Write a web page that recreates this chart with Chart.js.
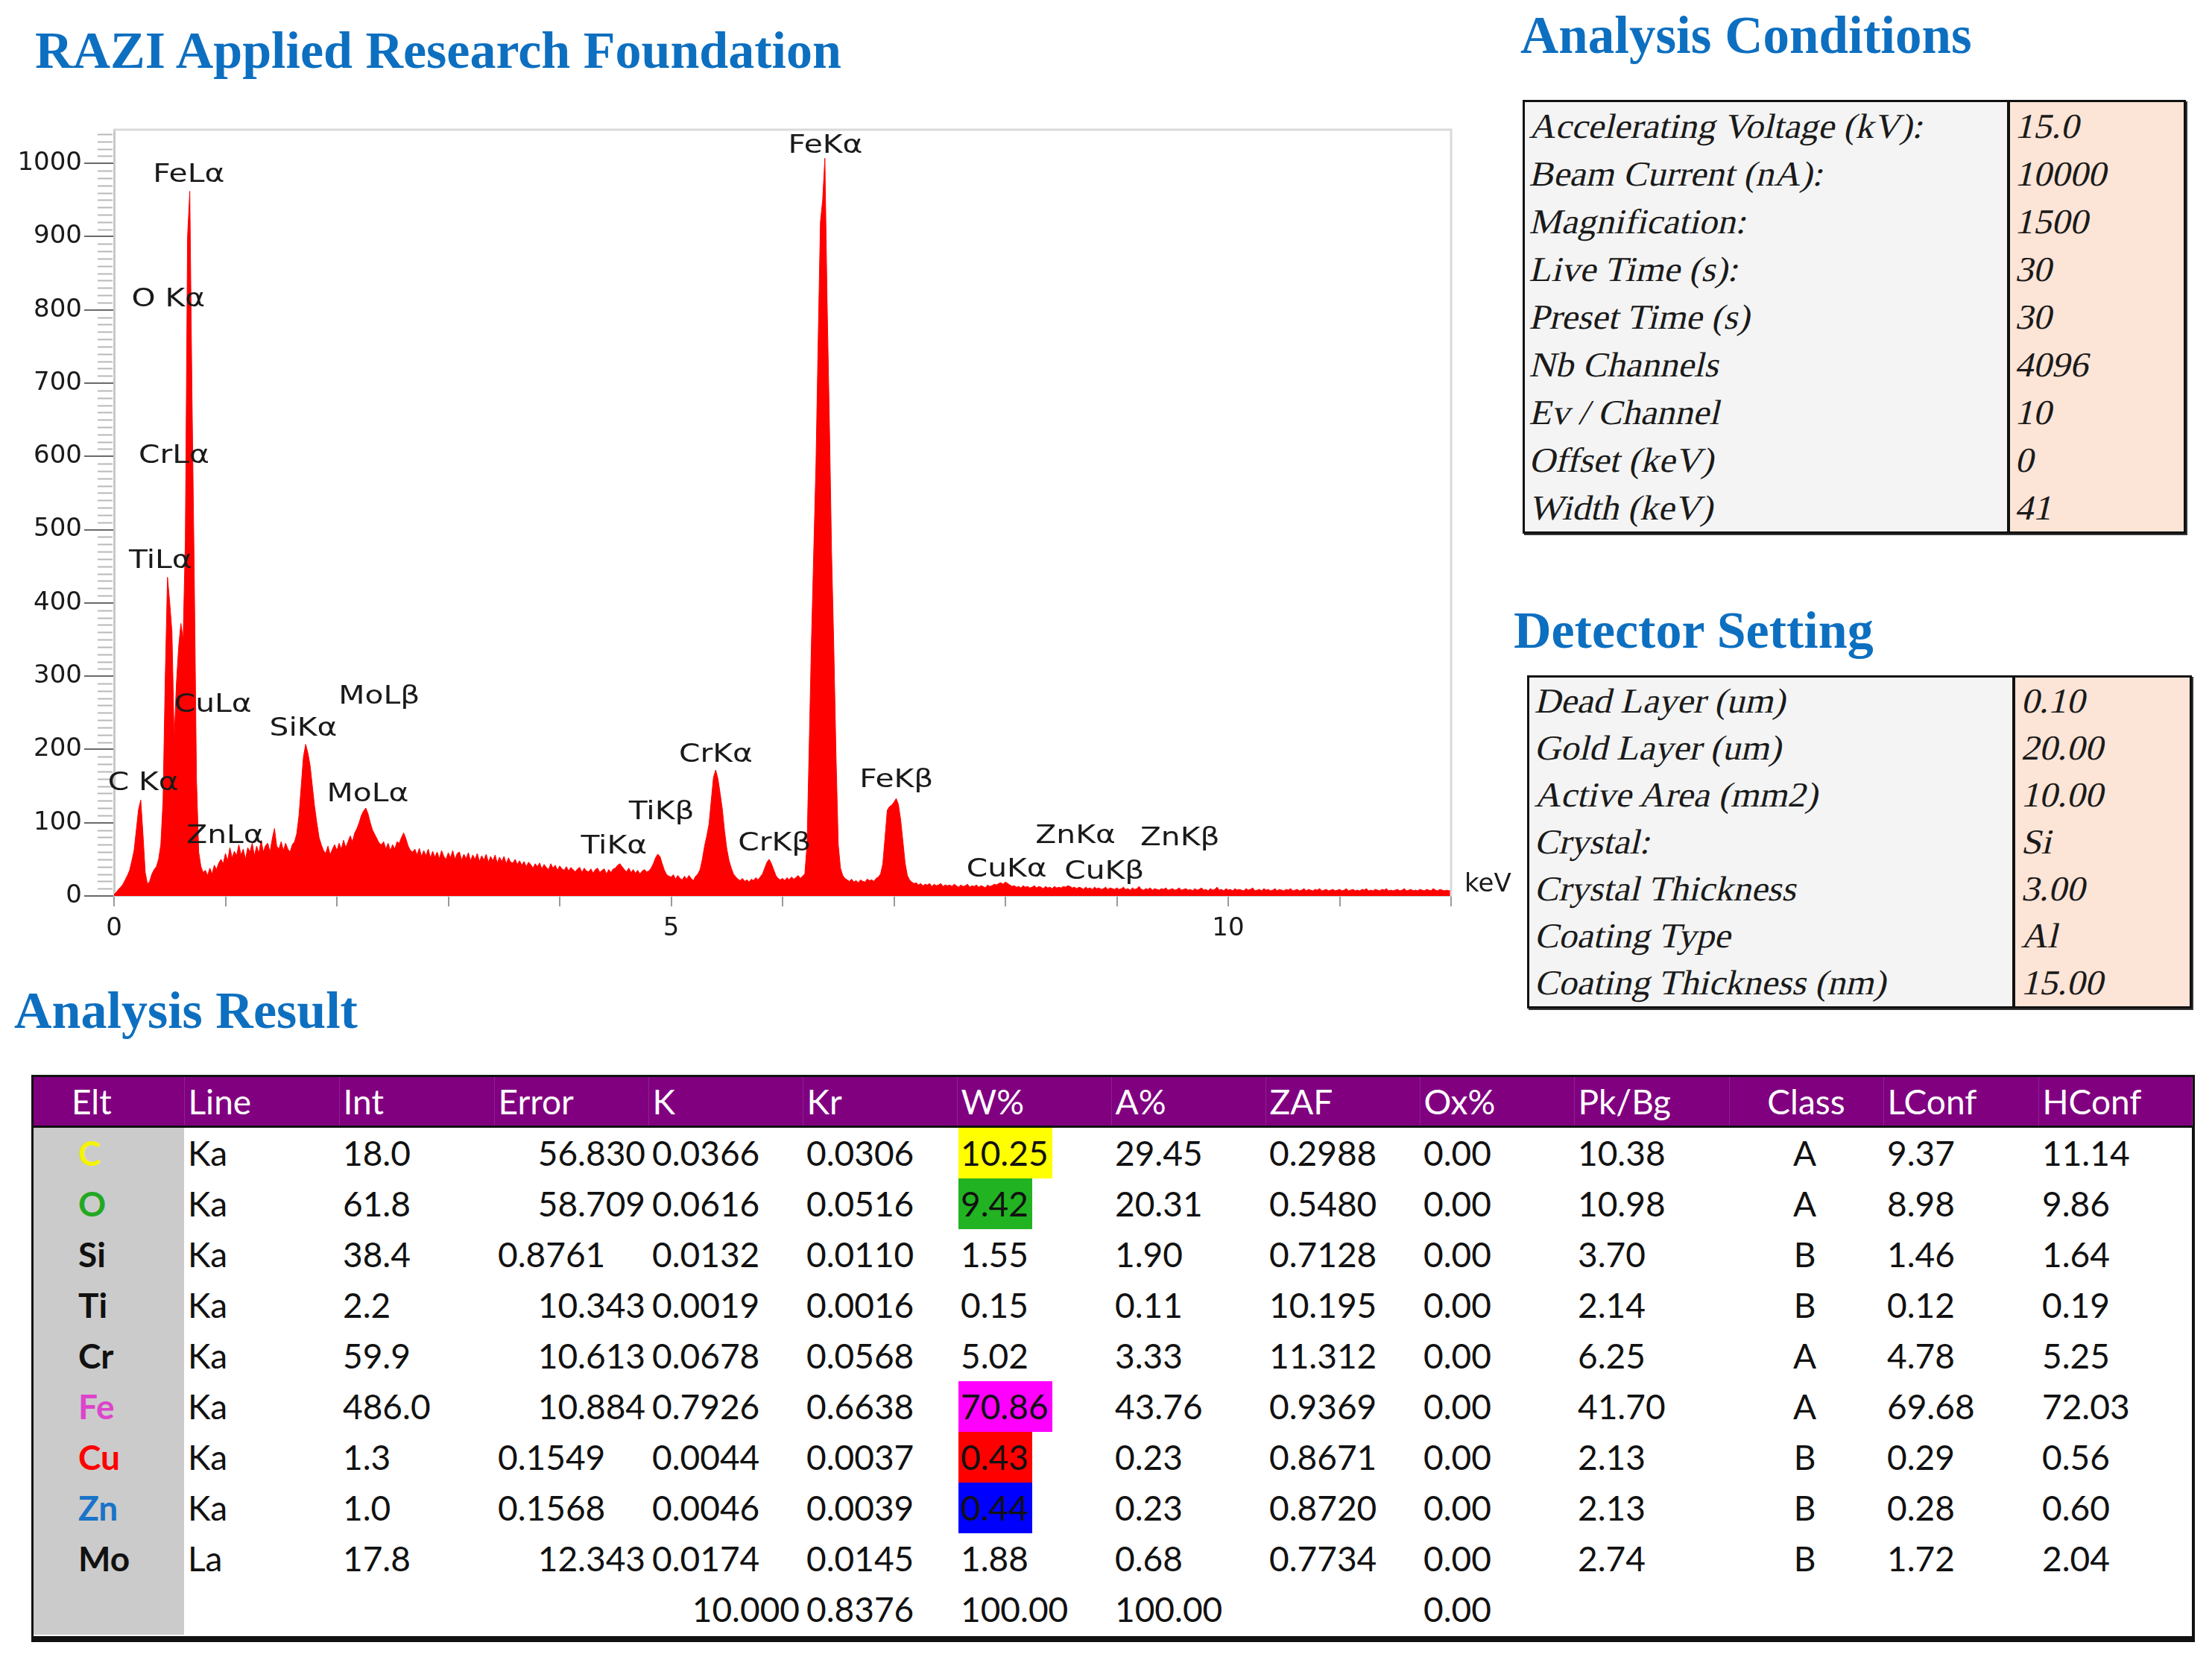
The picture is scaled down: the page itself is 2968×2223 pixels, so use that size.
<!DOCTYPE html>
<html>
<head>
<meta charset="utf-8">
<title>EDS spectrum report</title>
<script src="https://cdn.jsdelivr.net/npm/chart.js@4.4.1/dist/chart.umd.min.js"></script>
<style>
  html, body { margin: 0; padding: 0; background: #fff; }
  body { position: relative; width: 2968px; height: 2223px; overflow: hidden; }
  .heading { position: absolute; margin: 0; font-family: "Liberation Serif", "Times New Roman", serif; font-weight: bold; color: #0d6fc0; line-height: 1; white-space: nowrap; }
  #spectrum { position: absolute; left: 0; top: 150px; }
  .kv { position: absolute; box-sizing: border-box; border: 3px solid #111; box-shadow: 2px 2px 0 #333; display: flex; font-family: "Liberation Serif", "Times New Roman", serif; font-size: 47px; color: #1a1a1a; }
  .kv .names { background: #f4f4f4; }
  .kv .vals { background: #fce4d6; border-left: 4px solid #111; flex: 1; }
  .kv .cell { white-space: nowrap; }
  .kv .cell span { display: inline-block; transform-origin: 0 50%; transform: skewX(-13deg) scaleX(1.04); }
  #resultBox { position: absolute; left: 42px; top: 1442px; width: 2903px; height: 761px; box-sizing: border-box; border-style: solid; border-color: #111; border-width: 3px 4px 8px 3px; background: #fff; }
  #results { border-collapse: collapse; table-layout: fixed; width: 2896px; font-family: Lato, "Open Sans", sans-serif; font-size: 46px; color: #111; }
  #results th { height: 65px; line-height: 65px; padding: 0 0 0 5px; background: #800080; color: #fff; font-weight: normal; text-align: left; border-bottom: 3px solid #111; border-right: 1px solid #8d238d; white-space: nowrap; }
  #results td { height: 68px; line-height: 68px; padding: 0 4px 0 5px; white-space: nowrap; overflow: visible; }
  #results td.elt { background: #cbcbcb; font-weight: bold; padding-left: 60px; }
  #results .mark { display: inline-block; line-height: 68px; padding: 0 5px 0 3px; margin-left: -3px; }
</style>
</head>
<body>

<div class="heading" style="left:47px; top:33px; font-size:70px;">RAZI Applied Research Foundation</div>
<div class="heading" style="left:2040px; top:12px; font-size:71px;">Analysis Conditions</div>
<div class="heading" style="left:2031px; top:811px; font-size:70px;">Detector Setting</div>
<div class="heading" style="left:19px; top:1321px; font-size:70px;">Analysis Result</div>

<canvas id="spectrum" width="2040" height="1150"></canvas>

<div class="kv" id="conditions" style="left:2043px; top:134px; width:890px; height:582px;"></div>
<div class="kv" id="detector" style="left:2049px; top:906px; width:892px; height:447px;"></div>

<div id="resultBox"><table id="results"></table></div>

<script>
// ===== Spectrum data (one value every 0.02 keV, 0 - 12 keV) =====
const channelKeV = 0.02;
const counts = [
  2, 5, 9, 12, 16, 22, 28, 35, 48, 62, 90, 118, 131, 84, 32, 16, 20, 30, 36, 40, 50, 70, 130, 300, 435,
  400, 360, 214, 290, 340, 372, 350, 485, 900, 962, 680, 440, 160, 60, 40, 32, 35, 28, 38, 30, 42, 36, 45, 50, 44,
  58, 48, 66, 52, 61, 55, 70, 56, 64, 50, 66, 60, 72, 55, 68, 58, 76, 60, 69, 72, 60, 78, 92, 68, 64,
  74, 62, 72, 64, 60, 70, 74, 85, 110, 150, 190, 207, 195, 178, 150, 122, 100, 80, 70, 62, 58, 68, 56, 64, 70,
  62, 72, 64, 76, 66, 74, 82, 74, 86, 92, 100, 110, 116, 120, 112, 100, 90, 84, 78, 72, 70, 74, 64, 72, 62,
  70, 64, 74, 72, 80, 86, 78, 68, 62, 60, 64, 56, 65, 54, 62, 55, 64, 52, 61, 53, 60, 51, 62, 54, 50,
  59, 52, 62, 50, 58, 60, 49, 57, 51, 59, 48, 56, 50, 58, 47, 55, 49, 57, 46, 54, 48, 56, 45, 53, 47,
  54, 44, 52, 46, 45, 50, 43, 48, 42, 47, 40, 46, 43, 38, 44, 40, 45, 37, 43, 39, 36, 44, 38, 42, 35,
  41, 37, 35, 40, 34, 39, 36, 33, 37, 39, 32, 38, 34, 33, 37, 31, 36, 38, 32, 35, 37, 30, 36, 32, 37,
  38, 42, 44, 40, 36, 33, 38, 32, 36, 31, 35, 30, 34, 36, 33, 34, 38, 44, 52, 57, 54, 44, 35, 29, 27,
  26, 29, 23, 28, 24, 22, 27, 23, 28, 24, 21, 27, 30, 36, 50, 68, 82, 98, 130, 162, 172, 160, 140, 118, 88,
  64, 48, 38, 30, 26, 23, 21, 24, 20, 22, 19, 23, 21, 25, 22, 26, 30, 38, 46, 50, 44, 36, 28, 24, 22,
  24, 21, 25, 22, 26, 23, 25, 28, 24, 27, 30, 70, 210, 350, 470, 590, 760, 920, 950, 1007, 810, 650, 470, 340, 190,
  70, 38, 28, 24, 22, 20, 23, 19, 21, 18, 22, 20, 19, 23, 21, 22, 20, 24, 26, 30, 44, 80, 117, 122, 124,
  128, 133, 125, 104, 75, 45, 28, 22, 19, 17, 18, 15, 17, 14, 16, 15, 17, 13, 16, 14, 15, 17, 13, 15, 14,
  15, 13, 16, 14, 12, 15, 13, 14, 16, 12, 14, 13, 15, 12, 14, 13, 11, 15, 13, 14, 16, 15, 17, 18, 16,
  19, 17, 15, 13, 14, 12, 13, 11, 14, 12, 13, 11, 12, 14, 11, 13, 12, 10, 13, 11, 12, 10, 13, 11, 12,
  11, 13, 12, 14, 13, 11, 12, 10, 12, 11, 9, 12, 10, 11, 9, 12, 10, 11, 9, 10, 12, 9, 11, 10, 9,
  11, 9, 10, 12, 9, 10, 8, 11, 9, 10, 13, 9, 8, 10, 9, 11, 8, 10, 9, 8, 10, 9, 11, 8, 9,
  10, 8, 9, 11, 8, 9, 10, 8, 9, 7, 10, 8, 9, 11, 8, 9, 7, 10, 8, 9, 12, 8, 9, 7, 10,
  8, 9, 7, 10, 8, 9, 8, 7, 10, 8, 9, 11, 7, 8, 9, 7, 10, 8, 9, 7, 8, 10, 7, 9, 8,
  7, 9, 8, 10, 7, 8, 9, 7, 8, 10, 7, 9, 8, 7, 9, 8, 10, 7, 8, 9, 7, 8, 9, 7, 8,
  9, 7, 8, 10, 7, 8, 9, 7, 8, 7, 9, 8, 10, 7, 8, 7, 9, 8, 7, 9, 8, 10, 7, 8, 7,
  8, 9, 7, 8, 10, 7, 8, 9, 7, 8, 7, 9, 8, 7, 9, 8, 7, 10, 8, 7, 9, 8, 7, 8, 7,
  8
];
const energyTickLabels = [0, 5, 10];
const countMax = 1046;

// peak name, left edge (keV), middle height (counts)
const peakLabels = [
  ['FeLα', 0.35, 984], ['O Kα', 0.157, 814], ['CrLα', 0.22, 600], ['TiLα', 0.134, 457],
  ['CuLα', 0.54, 260], ['C Kα', -0.056, 153], ['ZnLα', 0.65, 81], ['SiKα', 1.395, 228],
  ['MoLβ', 2.015, 271], ['MoLα', 1.91, 138], ['TiKα', 4.19, 67], ['TiKβ', 4.62, 114],
  ['CrKα', 5.07, 192], ['CrKβ', 5.60, 71], ['FeKα', 6.05, 1023], ['FeKβ', 6.69, 158],
  ['CuKα', 7.65, 35], ['CuKβ', 8.53, 32], ['ZnKα', 8.27, 81], ['ZnKβ', 9.21, 78]
];

// ===== Side tables =====
const conditionNames = ['Accelerating Voltage (kV):', 'Beam Current (nA):', 'Magnification:', 'Live Time (s):',
  'Preset Time (s)', 'Nb Channels', 'Ev / Channel', 'Offset (keV)', 'Width (keV)'];
const conditionValues = ['15.0', '10000', '1500', '30', '30', '4096', '10', '0', '41'];
const detectorNames = ['Dead Layer (um)', 'Gold Layer (um)', 'Active Area (mm2)', 'Crystal:',
  'Crystal Thickness', 'Coating Type', 'Coating Thickness (nm)'];
const detectorValues = ['0.10', '20.00', '10.00', 'Si', '3.00', 'Al', '15.00'];

// ===== Analysis result =====
const resultHeaders = ['Elt', 'Line', 'Int', 'Error', 'K', 'Kr', 'W%', 'A%', 'ZAF', 'Ox%', 'Pk/Bg', 'Class', 'LConf', 'HConf'];
const elements = ['C', 'O', 'Si', 'Ti', 'Cr', 'Fe', 'Cu', 'Zn', 'Mo'];
const lines = ['Ka', 'Ka', 'Ka', 'Ka', 'Ka', 'Ka', 'Ka', 'Ka', 'La'];
const intensity = ['18.0', '61.8', '38.4', '2.2', '59.9', '486.0', '1.3', '1.0', '17.8'];
const errors = ['56.830', '58.709', '0.8761', '10.343', '10.613', '10.884', '0.1549', '0.1568', '12.343'];
const kValues = ['0.0366', '0.0616', '0.0132', '0.0019', '0.0678', '0.7926', '0.0044', '0.0046', '0.0174'];
const krValues = ['0.0306', '0.0516', '0.0110', '0.0016', '0.0568', '0.6638', '0.0037', '0.0039', '0.0145'];
const weightPct = ['10.25', '9.42', '1.55', '0.15', '5.02', '70.86', '0.43', '0.44', '1.88'];
const atomicPct = ['29.45', '20.31', '1.90', '0.11', '3.33', '43.76', '0.23', '0.23', '0.68'];
const zafValues = ['0.2988', '0.5480', '0.7128', '10.195', '11.312', '0.9369', '0.8671', '0.8720', '0.7734'];
const oxidePct = ['0.00', '0.00', '0.00', '0.00', '0.00', '0.00', '0.00', '0.00', '0.00'];
const peakToBg = ['10.38', '10.98', '3.70', '2.14', '6.25', '41.70', '2.13', '2.13', '2.74'];
const classes = ['A', 'A', 'B', 'B', 'A', 'A', 'B', 'B', 'B'];
const lowConf = ['9.37', '8.98', '1.46', '0.12', '4.78', '69.68', '0.29', '0.28', '1.72'];
const highConf = ['11.14', '9.86', '1.64', '0.19', '5.25', '72.03', '0.56', '0.60', '2.04'];
const totals = ['', '', '', '', '10.000', '0.8376', '100.00', '100.00', '', '0.00', '', '', '', ''];

const eltColors = { C: '#f4f400', O: '#22a822', Fe: '#dd44cc', Cu: '#ff0000', Zn: '#1a73c8' };
const weightMarks = { C: '#ffff00', O: '#22b322', Fe: '#ff00ff', Cu: '#ff0000', Zn: '#0000ff' };

function fillKeyValue(box, names, values, rowH, padNames, padVals, namesWidth) {
  const nameCol = document.createElement('div');
  nameCol.className = 'names';
  nameCol.style.width = namesWidth + 'px';
  const valCol = document.createElement('div');
  valCol.className = 'vals';
  names.forEach((n, i) => {
    nameCol.insertAdjacentHTML('beforeend',
      `<div class="cell" style="height:${rowH}px;line-height:${rowH}px;padding-left:${padNames}px"><span>${n}</span></div>`);
    valCol.insertAdjacentHTML('beforeend',
      `<div class="cell" style="height:${rowH}px;line-height:${rowH}px;padding-left:${padVals}px"><span>${values[i]}</span></div>`);
  });
  box.appendChild(nameCol);
  box.appendChild(valCol);
}

fillKeyValue(document.getElementById('conditions'), conditionNames, conditionValues, 64, 9, 10, 647);
fillKeyValue(document.getElementById('detector'), detectorNames, detectorValues, 63, 10, 11, 648);

// results table
const colWidths = [202, 208, 208, 207, 207, 207, 207, 207, 207, 207, 208, 207, 208, 206];
const table = document.getElementById('results');
let html = '<colgroup>' + colWidths.map(w => `<col style="width:${w}px">`).join('') + '</colgroup>';
html += '<tr>' + resultHeaders.map((h, c) => {
  if (c === 0) return `<th style="padding-left:51px">${h}</th>`;
  if (h === 'Class') return `<th style="text-align:center;padding-left:0">${h}</th>`;
  return `<th>${h}</th>`;
}).join('') + '</tr>';

const columns = [elements, lines, intensity, errors, kValues, krValues, weightPct, atomicPct,
  zafValues, oxidePct, peakToBg, classes, lowConf, highConf];

function cellHtml(c, v, elt) {
  let style = '';
  if ((c === 3 || c === 4) && parseFloat(v) >= 10) style = 'text-align:right';
  if (c === 11) style = 'text-align:center;padding-left:0';
  let content = v;
  if (c === 6 && elt && weightMarks[elt]) content = `<span class="mark" style="background:${weightMarks[elt]}">${v}</span>`;
  return `<td style="${style}">${content}</td>`;
}

elements.forEach((elt, r) => {
  html += '<tr>';
  columns.forEach((col, c) => {
    if (c === 0) {
      const color = eltColors[elt] || '#111';
      html += `<td class="elt" style="color:${color}">${elt}</td>`;
    } else {
      html += cellHtml(c, col[r], elt);
    }
  });
  html += '</tr>';
});
html += '<tr>' + totals.map((v, c) => c === 0 ? '<td class="elt"></td>' : cellHtml(c, v, null)).join('') + '</tr>';
table.innerHTML = html;

// ===== Spectrum chart =====
const spectrumDecor = {
  id: 'spectrumDecor',
  afterDraw(chart) {
    const { ctx, chartArea: a, scales: { x, y } } = chart;
    ctx.save();
    // light frame on top / right
    ctx.strokeStyle = '#dadada';
    ctx.lineWidth = 3;
    ctx.beginPath();
    ctx.moveTo(a.left, a.top);
    ctx.lineTo(a.right, a.top);
    ctx.lineTo(a.right, a.bottom);
    ctx.stroke();

    // minor ticks on the counts axis
    ctx.strokeStyle = '#b8b8b8';
    ctx.lineWidth = 2;
    for (let v = 10; v < y.max; v += 10) {
      if (v % 100 === 0) continue;
      const py = Math.round(y.getPixelForValue(v)) + 0.5;
      ctx.beginPath();
      ctx.moveTo(a.left - 22, py);
      ctx.lineTo(a.left - 2, py);
      ctx.stroke();
    }

    ctx.fillStyle = '#1a1a1a';
    ctx.font = '34px "DejaVu Sans"';
    ctx.textBaseline = 'middle';
    ctx.textAlign = 'left';
    ctx.fillText('keV', a.right + 18, a.bottom - 15);

    // peak names
    peakLabels.forEach(([name, e, c]) => {
      ctx.save();
      ctx.translate(x.getPixelForValue(e), y.getPixelForValue(c));
      ctx.scale(1.2, 1);
      ctx.fillText(name, 0, 0);
      ctx.restore();
    });
    ctx.restore();
  }
};

const tickFont = { family: 'DejaVu Sans', size: 34 };

new Chart(document.getElementById('spectrum').getContext('2d'), {
  type: 'line',
  data: {
    datasets: [{
      data: counts.map((c, i) => ({ x: +(i * channelKeV).toFixed(2), y: c })),
      borderColor: '#ff0000',
      backgroundColor: '#ff0000',
      borderWidth: 1,
      pointRadius: 0,
      tension: 0,
      fill: 'origin'
    }]
  },
  options: {
    responsive: false,
    animation: false,
    devicePixelRatio: 1,
    layout: { padding: { left: 0, top: 24, right: 93, bottom: 0 } },
    plugins: { legend: { display: false }, tooltip: { enabled: false } },
    scales: {
      x: {
        type: 'linear', min: 0, max: 12,
        afterFit: s => { s.height = 98; },
        ticks: {
          stepSize: 1, autoSkip: false, maxRotation: 0, padding: 10,
          font: tickFont, color: '#1a1a1a',
          callback: v => energyTickLabels.includes(v) ? String(v) : ''
        },
        grid: { drawOnChartArea: false, tickLength: 14, color: '#9a9a9a', lineWidth: 2 },
        border: { color: '#c8c8c8', width: 2 }
      },
      y: {
        min: 0, max: countMax,
        afterFit: s => { s.width = 153; },
        ticks: {
          stepSize: 100, padding: 3, autoSkip: false,
          font: tickFont, color: '#1a1a1a',
          callback: v => v % 100 === 0 ? String(v) : ''
        },
        grid: {
          drawOnChartArea: false, tickLength: 40, lineWidth: 2,
          color: c => (c.tick && c.tick.value % 100 === 0) ? '#6a6a6a' : 'rgba(0,0,0,0)'
        },
        border: { color: '#c8c8c8', width: 3 }
      }
    }
  },
  plugins: [spectrumDecor]
});
</script>
</body>
</html>
